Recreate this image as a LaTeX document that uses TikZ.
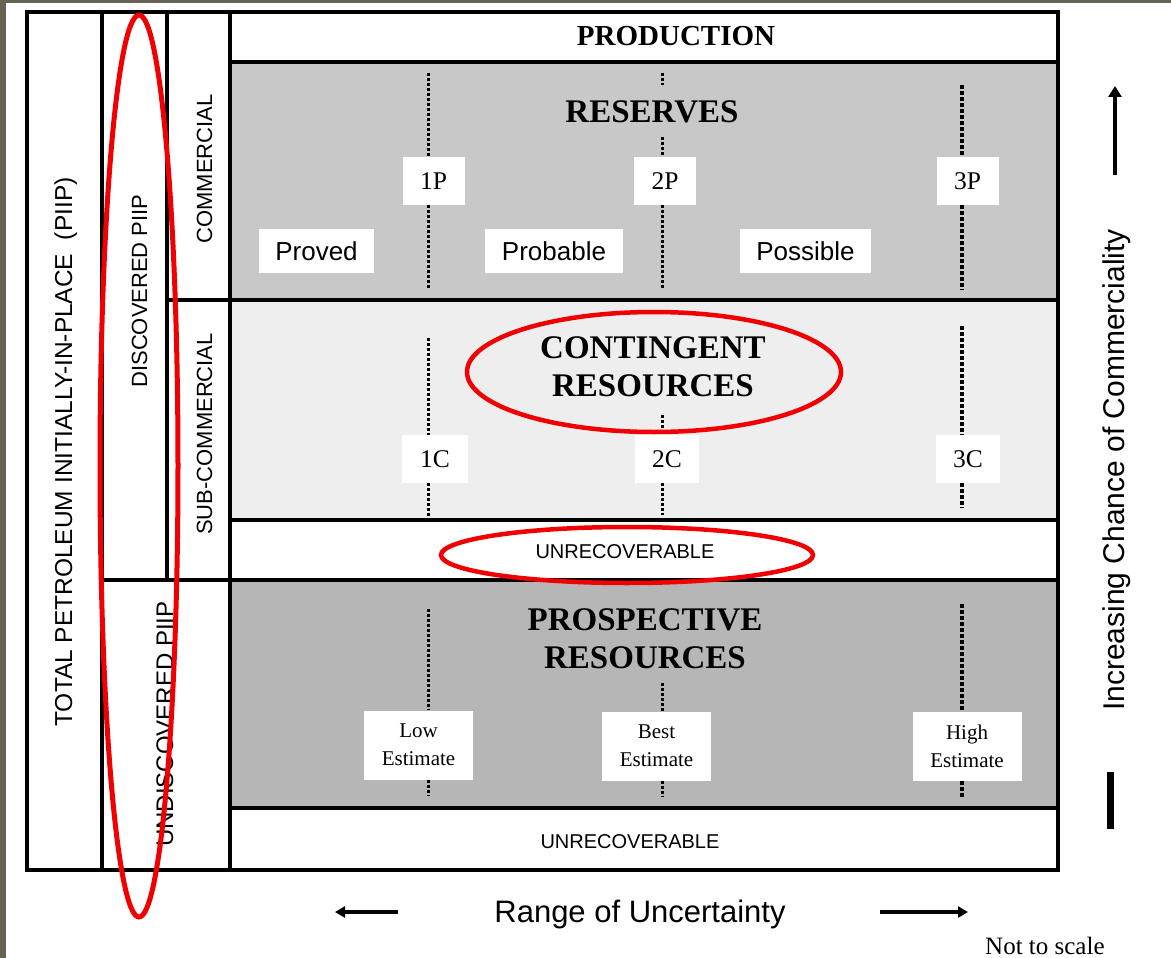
\documentclass[tikz,border=0pt]{standalone}
\usepackage{fontspec}
\setmainfont{Liberation Serif}
\setsansfont{Liberation Sans}
\usetikzlibrary{arrows.meta}
\definecolor{strip}{RGB}{104,98,84}
\definecolor{resgray}{RGB}{200,200,200}
\definecolor{congray}{RGB}{238,238,238}
\definecolor{progray}{RGB}{182,182,182}
\definecolor{ringred}{RGB}{240,0,0}
\tikzset{
  frame/.style={line width=4pt},
  hdr/.style={font=\bfseries\fontsize{33}{38}\selectfont, anchor=base, inner sep=0pt},
  lab/.style={fill=white, inner sep=0pt, align=center},
  pbox/.style={lab, font=\fontsize{25.5}{30}\selectfont, minimum width=62pt, minimum height=48pt},
  wbox/.style={lab, font=\sffamily\fontsize{26}{30}\selectfont, minimum height=44pt},
  ebox/.style={lab, font=\fontsize{21}{28}\selectfont, minimum width=109pt, minimum height=69pt},
  vtext/.style={rotate=90, anchor=base, inner sep=0pt},
  unrec/.style={font=\sffamily\fontsize{20}{24}\selectfont, anchor=base, inner sep=0pt},
  dots/.style={line width=3pt, dash pattern=on 3pt off 2pt},
  thickdots/.style={line width=4.5pt, dash pattern=on 4pt off 2pt},
  ring/.style={draw=ringred, line width=4.5pt},
  axisarrow/.style={line width=3.5pt, -{Triangle[length=10pt,width=11pt]}}
}
\begin{document}
\begin{tikzpicture}[x=1pt,y=-1pt]
\useasboundingbox (0,0) rectangle (1171,958);
\fill[white] (0,0) rectangle (1171,958);
\fill[strip] (0,0) rectangle (6,958);
\fill[strip] (0,0) rectangle (1171,3);

% region fills
\fill[resgray] (230,62) rectangle (1058,300);
\fill[congray] (230,300) rectangle (1058,520);
\fill[progray] (230,580) rectangle (1058,808);

% frame lines
\draw[frame] (27,12) rectangle (1058,870);
\draw[frame] (102,12) -- (102,870);
\draw[frame] (167,12) -- (167,580);
\draw[frame] (230,12) -- (230,870);
\draw[frame] (230,62) -- (1058,62);
\draw[frame] (167,300) -- (1058,300);
\draw[frame] (230,520) -- (1058,520);
\draw[frame] (102,580) -- (1058,580);
\draw[frame] (230,808) -- (1058,808);

% column coordinates
\coordinate (c1) at (428,0);
\coordinate (c2) at (662,0);
\coordinate (c3) at (962,0);

% headers
\node[hdr, font=\bfseries\fontsize{29}{34}\selectfont] (prod) at (676,46) {PRODUCTION};
\node[hdr] (res) at (652,122) {RESERVES};
\node[hdr] (cont1) at (653,358) {CONTINGENT};
\node[hdr] (cont2) at (653,396) {RESOURCES};
\node[hdr] (pros1) at (645,630) {PROSPECTIVE};
\node[hdr] (pros2) at (645,668) {RESOURCES};
\node[unrec] (unrec1) at (625,558) {UNRECOVERABLE};
\node[unrec] (unrec2) at (630,848) {UNRECOVERABLE};

% reserves labels
\node[pbox] (p1) at (433.5,181) {1P};
\node[pbox] (p2) at (665,181) {2P};
\node[pbox] (p3) at (967.5,181) {3P};
\node[wbox, minimum width=115pt] (proved) at (316.5,251) {Proved};
\node[wbox, minimum width=138pt] (probable) at (554,251) {Probable};
\node[wbox, minimum width=131pt] (possible) at (805.5,251) {Possible};

% contingent labels
\node[pbox, minimum width=66pt] (k1) at (435,459) {1C};
\node[pbox, minimum width=64pt] (k2) at (667,459) {2C};
\node[pbox, minimum width=64pt] (k3) at (968,459) {3C};

% prospective labels
\node[ebox] (low) at (418.5,745) {Low\\Estimate};
\node[ebox] (best) at (656.5,746) {Best\\Estimate};
\node[ebox] (high) at (967,746) {High\\Estimate};

% dotted lines: reserves
\draw[dots] (428,73) -- (c1 |- p1.north);
\draw[dots] (c1 |- p1.south) -- (428,290);
\draw[dots] (662,73) -- (662,85);
\draw[dots] (662,137) -- (c2 |- p2.north);
\draw[dots] (c2 |- p2.south) -- (662,290);
\draw[thickdots] (962,85) -- (c3 |- p3.north);
\draw[thickdots] (c3 |- p3.south) -- (962,290);

% dotted lines: contingent
\draw[dots] (428,338) -- (c1 |- k1.north);
\draw[dots] (c1 |- k1.south) -- (428,517);
\draw[dots] (662,415) -- (c2 |- k2.north);
\draw[dots] (c2 |- k2.south) -- (662,515);
\draw[thickdots] (962,326) -- (c3 |- k3.north);
\draw[thickdots] (c3 |- k3.south) -- (962,508);

% dotted lines: prospective
\draw[dots] (428,609) -- (c1 |- low.north);
\draw[dots] (c1 |- low.south) -- (428,796);
\draw[dots] (662,683) -- (c2 |- best.north);
\draw[dots] (c2 |- best.south) -- (662,797);
\draw[thickdots] (962,604) -- (c3 |- high.north);
\draw[thickdots] (c3 |- high.south) -- (962,798);

% vertical texts
\node[vtext, font=\sffamily\fontsize{24.5}{28}\selectfont] (total) at (72,452) {TOTAL PETROLEUM INITIALLY-IN-PLACE\ \ (PIIP)};
\node[vtext, font=\sffamily\fontsize{22}{26}\selectfont] (disc) at (147,291) {DISCOVERED PIIP};
\node[vtext, font=\sffamily\fontsize{22}{26}\selectfont] (comm) at (212,169) {COMMERCIAL};
\node[vtext, font=\sffamily\fontsize{22}{26}\selectfont] (subcomm) at (212,434) {SUB-COMMERCIAL};
\node[vtext, font=\sffamily\fontsize{24}{28}\selectfont] (undisc) at (173,724) {UNDISCOVERED PIIP};
\node[vtext, font=\sffamily\fontsize{30}{34}\selectfont] (chance) at (1124,470) {Increasing Chance of Commerciality};

% axis arrows
\coordinate (upS) at (1115,175);
\coordinate (upE) at (1115,86);
\draw[line width=4.5pt, -{Triangle[length=11pt,width=13pt]}] (upS) -- (upE);
\coordinate (barS) at (1110,772);
\coordinate (barE) at (1110,829);
\draw[line width=7pt] (barS) -- (barE);

\node[font=\sffamily\fontsize{31}{36}\selectfont, anchor=base, inner sep=0pt] (range) at (640,922) {Range of Uncertainty};
\coordinate (lS) at (398,912);
\coordinate (lE) at (335,912);
\coordinate (rS) at (880,912);
\coordinate (rE) at (968,912);
\draw[axisarrow] (lS) -- (lE);
\draw[axisarrow] (rS) -- (rE);

\node[font=\fontsize{25}{30}\selectfont, anchor=base west, inner sep=0pt] (nts) at (985,954) {Not to scale};

% red ellipses
\draw[ring, line width=5pt] (139,466) ellipse [x radius=39, y radius=451];
\draw[ring] (654,372) ellipse [x radius=187, y radius=60];
\draw[ring] (627,555) ellipse [x radius=186, y radius=28];
\end{tikzpicture}
\end{document}
